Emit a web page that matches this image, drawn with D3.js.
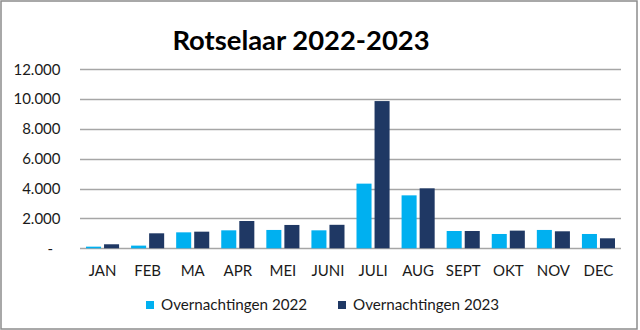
<!DOCTYPE html>
<html><head><meta charset="utf-8">
<script src="https://cdn.jsdelivr.net/npm/d3@7"></script>
<style>body{margin:0;background:#fff}svg{display:block}</style>
</head><body>
<script>
const months = ["JAN","FEB","MA","APR","MEI","JUNI","JULI","AUG","SEPT","OKT","NOV","DEC"];
const seriesNames = ["Overnachtingen 2022","Overnachtingen 2023"];
const values2022 = [110,180,1070,1205,1230,1205,4335,3550,1160,960,1230,960];
const values2023 = [270,1005,1115,1830,1565,1575,9870,4020,1160,1185,1140,670];
const yTicks = [0,2000,4000,6000,8000,10000,12000];
const title = "Rotselaar 2022-2023";
const colors = ["#00B0F0","#1F3864"];

const W=640,H=330;
const svg=d3.select("body").append("svg").attr("width",W).attr("height",H);
svg.append("rect").attr("x",1).attr("y",1).attr("width",636).attr("height",328)
  .attr("fill","#fff").attr("stroke","#8c8c8c").attr("stroke-width",1.5);

const font="Lato, 'Open Sans', sans-serif";
const y=d3.scaleLinear().domain([0,12000]).range([248.3,69.3]);
const x0=d3.scaleBand().domain(months).range([80,621]).paddingInner(0).paddingOuter(0);
const x1=d3.scaleBand().domain(seriesNames).range([6,x0.bandwidth()-6]).paddingInner(1/6).paddingOuter(0);

// gridlines
svg.append("g").selectAll("line").data(yTicks).join("line")
  .attr("x1",80).attr("x2",621).attr("y1",d=>Math.round(y(d))+0.5).attr("y2",d=>Math.round(y(d))+0.5)
  .attr("stroke","#a6a6a6").attr("stroke-width",1.3);

// y labels
const fmt=d=>d===0?"-":d3.format(",")(d).replace(/,/g,".");
svg.append("g").selectAll("text").data(yTicks).join("text")
  .attr("x",d=>d===0?53:60.5).attr("y",d=>y(d)).attr("dy","0.35em")
  .attr("text-anchor","end").attr("font-family",font).attr("font-size",15).attr("fill","#1a1a1a")
  .text(fmt);

// bars
const data=months.map((m,i)=>({m,vals:[values2022[i],values2023[i]]}));
const g=svg.append("g").selectAll("g").data(data).join("g").attr("transform",d=>`translate(${x0(d.m)},0)`);
g.selectAll("rect").data(d=>d.vals.map((v,j)=>({s:seriesNames[j],v,j}))).join("rect")
  .attr("x",d=>x1(d.s)).attr("width",x1.bandwidth())
  .attr("y",d=>y(d.v)).attr("height",d=>y(0)-y(d.v))
  .attr("fill",d=>colors[d.j]);

// x labels
svg.append("g").selectAll("text").data(months).join("text")
  .attr("x",d=>x0(d)+x0.bandwidth()/2).attr("y",275.5)
  .attr("text-anchor","middle").attr("font-family",font).attr("font-size",15).attr("fill","#1a1a1a")
  .text(d=>d);

// title
svg.append("text").attr("x",301).attr("y",50).attr("text-anchor","middle")
  .attr("font-family",font).attr("font-weight","bold").attr("font-size",27.4).attr("fill","#000")
  .text(title);

// legend
const legX=[146,338];
const lg=svg.append("g").selectAll("g").data(seriesNames).join("g")
  .attr("transform",(d,i)=>`translate(${legX[i]},0)`);
lg.append("rect").attr("x",0).attr("y",301).attr("width",8).attr("height",8).attr("fill",(d,i)=>colors[i]);
lg.append("text").attr("x",15).attr("y",305).attr("dy","0.35em")
  .attr("font-family",font).attr("font-size",15.2).attr("fill","#1a1a1a").text(d=>d);
</script>
</body></html>
